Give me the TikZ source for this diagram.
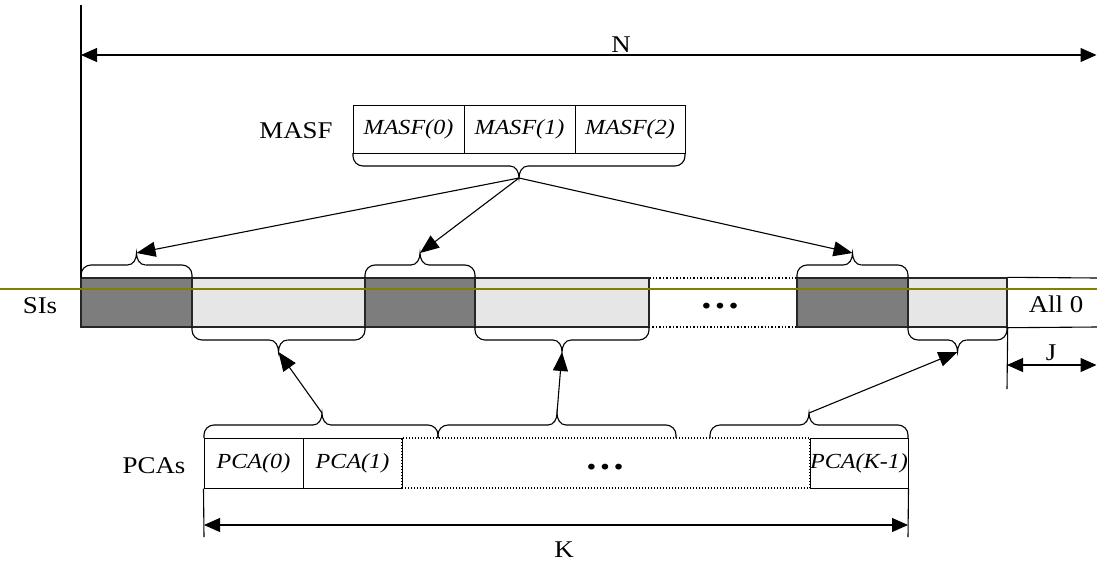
\documentclass[tikz,border=0pt]{standalone}
\usepackage{fontspec}
\setmainfont{Liberation Serif}[FakeStretch=1.12]
\usetikzlibrary{arrows.meta}
\definecolor{olivel}{RGB}{128,128,0}
\definecolor{darkseg}{RGB}{125,125,125}
\definecolor{lightseg}{RGB}{230,230,230}
\tikzset{
  lbl/.style={font=\fontsize{24}{28}\selectfont, inner sep=0},
  ital/.style={font=\itshape\fontsize{21.5}{24}\selectfont},
  dotlbl/.style={font=\bfseries\fontsize{36}{36}\selectfont, inner sep=0},
  seg/.style={rectangle, inner sep=0, minimum height=49pt, line width=1.4pt, draw=black!85},
  dk/.style={seg, fill=darkseg},
  lt/.style={seg, fill=lightseg},
  dotseg/.style={seg, draw=black, dotted, line width=1.4pt, fill=white},
  cell/.style={rectangle, draw, line width=1pt, inner sep=0, ital},
  arr/.style={line width=1.1pt, -{Triangle[length=19pt,width=15pt]}},
  dimarr/.style={line width=1.1pt, {Triangle[length=16pt,width=14pt]}-{Triangle[length=16pt,width=14pt]}},
  br/.style={line width=1.1pt},
  thin/.style={line width=1.1pt},
}
\newcommand\cbrace[5]{%
  \pgfmathsetmacro\myyf{#4+(#5)*13}%
  \pgfmathsetmacro\myyt{#4+(#5)*25}%
  \pgfmathsetmacro\myym{#4+(#5)*19}%
  \draw[br,rounded corners=10pt] (#1,#4) |- ({#3-9},\myyf);
  \draw[br] ({#3-9},\myyf) .. controls ({#3-3},\myyf) and (#3,\myym) .. (#3,\myyt)
            .. controls (#3,\myym) and ({#3+3},\myyf) .. ({#3+9},\myyf);
  \draw[br,rounded corners=10pt] ({#3+9},\myyf) -| (#2,#4);
}
\begin{document}
\begin{tikzpicture}[x=1pt,y=-1pt]
\useasboundingbox (0,0) rectangle (1097,565);

% N dimension
\coordinate (vt) at (81,5);
\coordinate (vb) at (81,278);
\draw[thin] (vt) -- (vb);
\coordinate (nL) at (81,55);
\coordinate (nR) at (1096.5,55);
\draw[dimarr] (nL) -- (nR);
\node[lbl] (N) at (621,45) {N};

% MASF
\node[lbl] (masflbl) at (296,131) {MASF};
\node[cell, minimum width=111pt, minimum height=48pt] (m0) at (408.5,129) {MASF(0)};
\node[cell, minimum width=111pt, minimum height=48pt] (m1) at (519.5,129) {MASF(1)};
\node[cell, minimum width=110pt, minimum height=48pt] (m2) at (630,129) {MASF(2)};
\cbrace{353}{685}{519}{153}{1}
\coordinate (mt) at (519,178);

% SIs bar
\node[lbl] (sis) at (40,306) {SIs};
\node[dotseg, minimum width=148pt] (e) at (723,302.5) {};
\node[dotlbl] at (720,306) {\dots};
\node[dk, minimum width=111pt] (d1) at (136.5,302.5) {};
\node[lt, minimum width=173pt] (l1) at (278.5,302.5) {};
\node[dk, minimum width=110pt] (d2) at (420,302.5) {};
\node[lt, minimum width=174pt] (l2) at (562,302.5) {};
\node[dk, minimum width=111pt] (d3) at (852.5,302.5) {};
\node[lt, minimum width=99pt] (l3) at (957.5,302.5) {};
\coordinate (a0t) at (1097,278);
\coordinate (a0b) at (1097,327);
\draw[thin] (l3.north east) -- (a0t);
\draw[thin] (l3.south east) -- (a0b);
\node[lbl] (all0) at (1056,304) {All 0};

% olive line
\coordinate (oL) at (0,289);
\coordinate (oR) at (1097,289);
\draw[olivel, line width=1.6pt] (oL) -- (oR);

% J dimension
\coordinate (jv) at (1007,389);
\draw[thin] (l3.south east) -- (jv);
\coordinate (jL) at (1007,365);
\coordinate (jR) at (1096.5,365);
\draw[dimarr] (jL) -- (jR);
\node[lbl] (J) at (1051,353) {J};

% braces on SIs
\cbrace{81}{192}{136.5}{278}{-1}
\cbrace{365}{475}{420}{278}{-1}
\cbrace{797}{908}{852.5}{278}{-1}
\cbrace{192}{365}{278.5}{327}{1}
\cbrace{475}{649}{562}{327}{1}
\cbrace{908}{1007}{957.5}{327}{1}
\coordinate (t1) at (136.5,253);
\coordinate (t2) at (420,253);
\coordinate (t3) at (852.5,253);
\coordinate (b1) at (278.5,352);
\coordinate (b2) at (562,352);
\coordinate (b3) at (957.5,352);

\draw[arr] (mt) -- (t1);
\draw[arr] (mt) -- (t2);
\draw[arr] (mt) -- (t3);

% PCAs
\node[lbl] (pcas) at (154,466) {PCAs};
\node[cell, dotted, line width=1.3pt, minimum width=408pt, minimum height=50pt] (pd) at (606,463) {};
\node[dotlbl] at (605,467) {\dots};
\node[cell, minimum width=99pt, minimum height=50pt] (p0) at (253.5,463) {PCA(0)};
\node[cell, minimum width=99pt, minimum height=50pt] (p1) at (352.5,463) {PCA(1)};
\node[cell, minimum width=98pt, minimum height=50pt] (pk) at (859,463) {PCA(K-1)};
\draw[thin] (p1.north east) -- (p1.south east);

\cbrace{204}{438}{322}{438}{-1}
\cbrace{438}{676}{557}{438}{-1}
\cbrace{710}{908}{809}{438}{-1}
\coordinate (q1) at (322,413);
\coordinate (q2) at (557,413);
\coordinate (q3) at (809,413);
\draw[arr] (q1) -- (b1);
\draw[arr] (q2) -- (b2);
\draw[arr] (q3) -- (b3);

% K dimension
\coordinate (kv1) at (204,537);
\coordinate (kv2) at (908,537);
\draw[thin] (p0.south west) -- (kv1);
\draw[thin] (pk.south east) -- (kv2);
\coordinate (kL) at (204,525);
\coordinate (kR) at (908,525);
\draw[dimarr] (kL) -- (kR);
\node[lbl] (K) at (564,550) {K};
\end{tikzpicture}
\end{document}
